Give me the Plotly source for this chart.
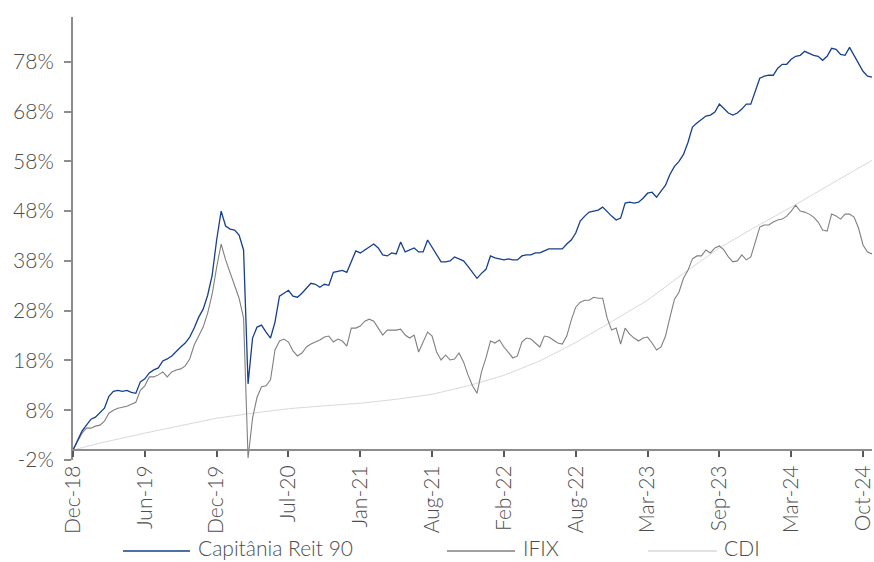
import plotly.graph_objects as go

# X tick labels (category positions every 16 samples)
tick_labels = ["Dec-18", "Jun-19", "Dec-19", "Jul-20", "Jan-21", "Aug-21",
               "Feb-22", "Aug-22", "Mar-23", "Sep-23", "Mar-24", "Oct-24"]
tick_step = 16

# Y tick labels
y_ticks = [-2, 8, 18, 28, 38, 48, 58, 68, 78]
y_tick_labels = ["-2%", "8%", "18%", "28%", "38%", "48%", "58%", "68%", "78%"]

# Cumulative return (%) - Capitânia Reit 90
capitania = [
    0.0, 2.0, 3.8, 5.0, 6.2, 6.6, 7.4, 8.4, 10.8, 11.8,
    12.0, 11.8, 12.0, 11.6, 11.4, 13.7, 14.3, 15.5, 16.1, 16.5,
    17.9, 18.3, 18.9, 19.9, 20.7, 21.5, 22.7, 24.5, 26.7, 28.3,
    31.1, 35.1, 42.2, 48.0, 45.0, 44.4, 44.2, 43.2, 40.2, 13.3,
    22.5, 24.7, 25.1, 23.7, 22.5, 25.7, 30.9, 31.5, 32.1, 30.9,
    30.7, 31.5, 32.5, 33.5, 33.3, 32.7, 33.3, 33.1, 35.7, 35.9,
    36.1, 35.7, 38.0, 40.0, 39.6, 40.2, 40.8, 41.4, 40.6, 39.2,
    39.0, 39.6, 39.4, 41.8, 39.8, 40.2, 40.6, 39.8, 39.8, 42.2,
    40.8, 39.4, 37.8, 37.8, 38.0, 38.8, 38.4, 38.0, 36.9, 35.7,
    34.5, 35.5, 36.3, 39.0, 38.6, 38.4, 38.2, 38.4, 38.2, 38.2,
    39.0, 39.2, 39.2, 39.6, 39.6, 40.0, 40.4, 40.4, 40.4, 40.4,
    41.4, 42.2, 43.6, 46.0, 47.0, 47.8, 48.0, 48.2, 48.8, 47.8,
    47.0, 46.2, 46.6, 49.6, 49.8, 49.6, 49.8, 50.6, 51.6, 51.8,
    50.8, 52.0, 53.2, 55.4, 57.0, 58.0, 59.4, 61.8, 64.9, 65.7,
    66.5, 67.1, 67.3, 67.9, 69.5, 68.7, 67.7, 67.3, 67.7, 68.5,
    69.5, 69.5, 71.9, 74.7, 75.1, 75.3, 75.3, 76.7, 77.5, 77.5,
    78.5, 79.1, 79.3, 80.1, 79.7, 79.3, 79.1, 78.3, 79.1, 80.7,
    80.5, 79.5, 79.3, 80.9, 79.3, 77.7, 76.1, 75.1, 74.9,
]

# Cumulative return (%) - IFIX
ifix = [
    0.0, 1.6, 3.4, 4.4, 4.4, 4.8, 5.0, 5.8, 7.4, 8.0,
    8.4, 8.6, 8.8, 9.2, 9.6, 12.0, 12.9, 14.7, 14.7, 15.1,
    15.7, 14.7, 15.7, 16.1, 16.3, 16.9, 18.3, 21.1, 22.9, 24.7,
    27.5, 31.3, 36.7, 41.4, 38.2, 35.5, 33.1, 30.5, 26.5, -1.6,
    6.4, 10.6, 12.7, 12.9, 14.1, 20.1, 21.9, 22.3, 21.7, 19.9,
    18.9, 19.5, 20.7, 21.3, 21.7, 22.1, 22.7, 22.9, 21.7, 22.3,
    21.9, 20.9, 24.5, 24.5, 24.9, 25.9, 26.3, 25.9, 24.5, 23.1,
    24.1, 24.1, 24.1, 24.3, 23.1, 22.5, 23.1, 19.7, 21.7, 23.7,
    22.9, 19.7, 18.1, 19.1, 18.1, 18.3, 19.5, 17.7, 15.1, 12.9,
    11.4, 15.7, 18.5, 21.9, 21.5, 22.1, 20.7, 19.5, 18.5, 18.9,
    21.7, 22.5, 22.3, 21.5, 20.7, 22.9, 22.7, 22.1, 21.5, 21.3,
    22.9, 26.1, 28.7, 29.7, 30.1, 30.1, 30.7, 30.5, 30.5, 26.5,
    24.1, 24.5, 21.3, 24.5, 23.3, 22.5, 21.9, 22.5, 22.7, 21.5,
    20.1, 20.7, 22.9, 26.7, 30.3, 31.7, 34.5, 36.1, 38.4, 39.0,
    39.0, 40.2, 39.6, 40.6, 41.0, 40.2, 38.8, 37.8, 38.0, 39.2,
    38.2, 38.8, 41.6, 44.8, 45.2, 45.2, 45.8, 46.2, 46.4, 47.0,
    48.0, 49.2, 48.0, 47.8, 47.4, 46.8, 45.8, 44.2, 44.0, 47.4,
    47.0, 46.4, 47.4, 47.4, 46.8, 44.6, 41.2, 39.8, 39.4,
]

# Cumulative return (%) - CDI, read at fewer sample positions
cdi_idx = [0, 6, 16, 32, 40, 48, 56, 64, 72, 80, 88, 96, 104,
           112, 120, 128, 136, 144, 152, 160, 168, 178]
cdi = [0.0, 1.4, 3.4, 6.4, 7.4, 8.3, 8.9, 9.4, 10.2, 11.2, 12.9, 15.0, 17.9,
       21.6, 25.8, 30.1, 35.5, 40.6, 44.8, 48.8, 53.0, 58.2]

series_names = ["Capitânia Reit 90", "IFIX", "CDI"]
series_colors = ["#163f8e", "#808080", "#d9d9d9"]
series_widths = [1.3, 1.1, 1.0]

x_idx = list(range(len(capitania)))
tick_vals = [i * tick_step for i in range(len(tick_labels))]

FONT = "Lato, 'Open Sans', sans-serif"
FSIZE = 21
FWEIGHT = 300
TXT = "#4d4d4d"
AX = "#8c8c8c"

fig = go.Figure()
fig.add_trace(go.Scatter(x=cdi_idx, y=cdi, mode="lines", name=series_names[2],
                         line=dict(color=series_colors[2], width=series_widths[2])))
fig.add_trace(go.Scatter(x=x_idx, y=ifix, mode="lines", name=series_names[1],
                         line=dict(color=series_colors[1], width=series_widths[1])))
fig.add_trace(go.Scatter(x=x_idx, y=capitania, mode="lines", name=series_names[0],
                         line=dict(color=series_colors[0], width=series_widths[0])))

y_min, y_max = -2, 87
x_pos = (0 - y_min) / (y_max - y_min)

tfont = dict(family=FONT, size=FSIZE, color=TXT, weight=FWEIGHT)

fig.update_layout(
    width=874, height=562,
    margin=dict(l=73, r=2, t=17, b=102, autoexpand=False),
    paper_bgcolor="white", plot_bgcolor="white",
    showlegend=False,
    font=tfont,
    xaxis=dict(
        range=[0, len(capitania) - 1],
        tickmode="array", tickvals=tick_vals, ticktext=tick_labels,
        tickangle=-90, ticks="outside", ticklen=6, tickwidth=1.5, tickcolor="#595959",
        showline=True, linecolor=AX, linewidth=2,
        showgrid=False, zeroline=False, automargin=False,
        anchor="free", position=x_pos,
        tickfont=tfont,
    ),
    yaxis=dict(
        range=[y_min, y_max],
        tickmode="array", tickvals=y_ticks, ticktext=y_tick_labels,
        ticks="outside", ticklen=7, tickwidth=1.5, tickcolor=AX,
        showline=True, linecolor=AX, linewidth=2,
        showgrid=False, zeroline=False, automargin=False,
        ticklabelstandoff=6,
        tickfont=tfont,
    ),
)

# Legend drawn at the bottom (line sample + label)
plot_left, plot_w = 73, 799
plot_bottom, plot_h = 460, 443
legend_line_py = 551
legend_text_py = 547
legend_items = [(123, 190, 197), (447, 515, 522), (648, 717, 723)]
for (x0, x1, xt), name, color in zip(legend_items, series_names, series_colors):
    yl = (plot_bottom - legend_line_py) / plot_h
    yt = (plot_bottom - legend_text_py) / plot_h
    fig.add_shape(type="line", xref="paper", yref="paper",
                  x0=(x0 - plot_left) / plot_w, x1=(x1 - plot_left) / plot_w,
                  y0=yl, y1=yl, line=dict(color=color, width=1.5))
    fig.add_annotation(xref="paper", yref="paper", x=(xt - plot_left) / plot_w, y=yt,
                       text=name, showarrow=False, xanchor="left", yanchor="middle",
                       borderpad=0, font=tfont)

fig.write_html(
    "out.html",
    config={"displayModeBar": False},
    post_script="document.body.style.margin='0';document.body.style.padding='0';",
)
